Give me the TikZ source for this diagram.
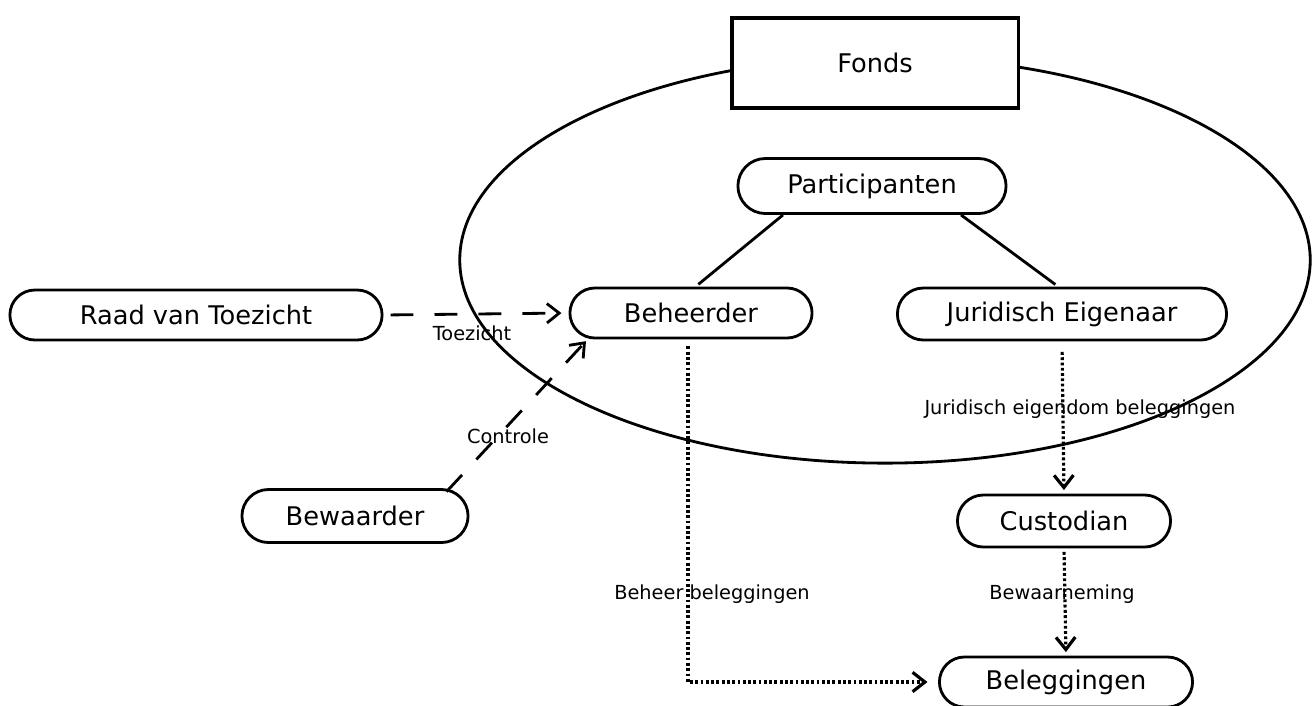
\documentclass[tikz,border=0pt]{standalone}
\usepackage{fontspec}
\setmainfont{DejaVu Sans}
\usetikzlibrary{shapes.misc, arrows.meta, positioning}

\begin{document}
\begin{tikzpicture}[x = 0.01cm, y = -0.01cm,
	partij/.style  = {draw, black, fill = white, line width = 0.8pt, rounded rectangle, inner sep = 0pt, font = \fontsize{7.3}{9}\selectfont},
	fondsbox/.style = {draw, black, fill = white, line width = 0.9pt, rectangle, inner sep = 0pt, font = \fontsize{7.3}{9}\selectfont},
	relatie/.style = {black, inner sep = 0pt, font = \fontsize{5.5}{7}\selectfont},
	lijn/.style    = {line width = 0.8pt, black},
	streep/.style  = {lijn, dash pattern = on 6.5pt off 6pt, -{Straight Barb[length = 3.5pt, width = 5.5pt]}},
	stip/.style    = {lijn, line width = 0.9pt, dash pattern = on 0.8pt off 0.7pt, -{Straight Barb[length = 3.5pt, width = 5.5pt]}}]

	\useasboundingbox (0, 0) rectangle (1314, 705);

	%%% FONDS %%%

	\draw[lijn] (885, 260) ellipse [x radius = 4.25cm, y radius = 2.03cm]; % Fondsgrens
	\node[fondsbox, minimum width = 2.86cm, minimum height = 0.90cm] (fonds) at (875, 63) {Fonds};

	%%% PARTIJEN %%%

	\node[partij, minimum width = 2.68cm, minimum height = 0.55cm] (participanten) at (872, 186) {Participanten};
	\node[partij, minimum width = 2.42cm, minimum height = 0.50cm] (beheerder)     at (691, 313) {Beheerder};
	\node[partij, minimum width = 3.29cm, minimum height = 0.52cm] (juridisch)     at (1062, 314) {Juridisch Eigenaar};
	\node[partij, minimum width = 3.72cm, minimum height = 0.50cm] (raad)          at (196, 315) {Raad van Toezicht};
	\node[partij, minimum width = 2.26cm, minimum height = 0.53cm] (bewaarder)     at (355, 516) {Bewaarder};
	\node[partij, minimum width = 2.13cm, minimum height = 0.52cm] (custodian)     at (1064, 521) {Custodian};
	\node[partij, minimum width = 2.53cm, minimum height = 0.50cm] (beleggingen)   at (1066, 682) {Beleggingen};

	%%% RELATIES %%%

	\draw[lijn, shorten >= 1pt] (participanten.198) -- (beheerder.80);
	\draw[lijn, shorten >= 1pt] (participanten.342) -- (juridisch.98);

	\draw[streep, shorten <= 2pt, shorten >= 2pt] (raad.east) -- (beheerder.west);
	\draw[streep, shorten <= -1pt, shorten >= 1pt] (bewaarder.16) -- (beheerder.-166);

	\draw[stip, shorten <= 2pt, shorten >= 3pt] ([xshift = -0.03cm] beheerder.south) |- (beleggingen.west);
	\draw[stip, shorten <= 3pt, shorten >= 1pt] (juridisch.south) -- (custodian.north);
	\draw[stip, shorten <= 1pt, shorten >= 1pt] (custodian.south) -- (beleggingen.north);

	\node[relatie] (ltoezicht)   at (472, 333) {Toezicht};
	\node[relatie] (lcontrole)   at (508, 436) {Controle};
	\node[relatie] (lbeheer)     at (712, 594) {Beheer beleggingen};
	\node[relatie] (ljuridisch)  at (1080, 409) {Juridisch eigendom beleggingen};
	\node[relatie] (lbewaar)     at (1062, 594) {Bewaarneming};

\end{tikzpicture}
\end{document}
